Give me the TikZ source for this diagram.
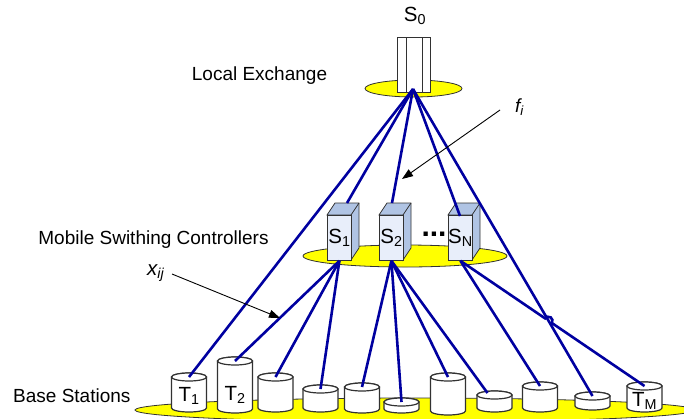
\documentclass[tikz,border=0pt]{standalone}
\usepackage{fontspec}
\setmainfont{Liberation Sans}
\usetikzlibrary{arrows.meta,calc,intersections}
\definecolor{linkblue}{RGB}{0,0,160}
\definecolor{yel}{RGB}{255,255,0}
\definecolor{boxfront}{RGB}{232,238,250}
\definecolor{boxshade}{RGB}{176,196,228}
\definecolor{edgegray}{RGB}{50,50,50}
\newcommand\mscbox[3]{%
  \filldraw[fill=boxshade, draw=edgegray, line width=0.8pt] (#2,215) -- (#2+8,203) -- (#2+32,203) -- (#2+32,248) -- (#2+24,260) -- (#2+24,215) -- cycle;
  \draw[edgegray, line width=0.8pt] (#2+24,215) -- (#2+32,203);
  \node[draw=edgegray, line width=0.8pt, fill=boxfront, minimum width=24pt, minimum height=45pt, inner sep=0pt, anchor=north west, lbl] (#1) at (#2,215) {\makebox[0pt]{#3}};
}
\newcommand\bscyl[6]{%
  \filldraw[cylline] (#2-17.5,#3+4) -- (#2-17.5,#4-4) arc[start angle=180, end angle=0, x radius=17.5, y radius=4] -- (#2+17.5,#3+4) arc[start angle=0, end angle=-180, x radius=17.5, y radius=4] -- cycle;
  \draw[cylline] (#2,#3+4) ellipse[x radius=17.5, y radius=4];
  \coordinate (#1) at (#2,#3+4);
  \node[lbl, anchor=base] (#1-label) at (#2,#6) {#5};
}
\begin{document}
\begin{tikzpicture}[x=1pt,y=-1pt,
  link/.style={draw=linkblue, line width=2.6pt},
  pointer/.style={draw=black, line width=0.9pt, -{Triangle[length=11pt,width=8pt]}},
  plate/.style={fill=yel, draw=edgegray, line width=0.8pt},
  cylline/.style={draw=edgegray, line width=1.2pt, fill=white},
  lbl/.style={font=\fontsize{20.5}{24}\selectfont, inner sep=0pt},
  txt/.style={font=\fontsize{19}{22}\selectfont, inner sep=0pt},
]
\useasboundingbox (0,0) rectangle (684,418);
\clip (0,0) rectangle (684,418);

% base stations plate and cylinders
\path[plate] (415,410) ellipse[x radius=280, y radius=12];
\bscyl{t1}{189}{373}{412}{T\textsubscript{1}}{401.5}
\bscyl{t2}{235}{357}{413}{T\textsubscript{2}}{400}
\bscyl{t3}{275.5}{373}{412}{}{400}
\bscyl{t4}{320.5}{385}{412}{}{400}
\bscyl{t5}{362}{383}{413}{}{400}
\bscyl{t6}{401.5}{398}{413}{}{400}
\bscyl{t7}{448}{373}{415}{}{400}
\bscyl{t8}{494.5}{391}{412}{}{400}
\bscyl{t9}{540}{382}{412}{}{400}
\bscyl{t10}{592.5}{392}{410}{}{400}
\bscyl{tm}{644.5}{382}{412}{T\textsubscript{M}}{406}

% mobile switching controllers
\path[plate] (405,256) ellipse[x radius=102, y radius=11];
\mscbox{s1}{327}{S\textsubscript{1}}
\mscbox{s2}{379}{S\textsubscript{2}}
\mscbox{sn}{448}{S\textsubscript{N}}
\node[font=\fontsize{30}{30}\selectfont\bfseries, inner sep=0pt] (dots) at (434,234.5) {...};
\coordinate (s1top) at (347,203);
\coordinate (s2top) at (392,203);
\coordinate (sntop) at (460,216);

% local exchange
\path[plate] (413.5,88.5) ellipse[x radius=48.5, y radius=8.5];
\node[draw=edgegray, fill=white, line width=0.8pt, minimum width=33pt, minimum height=55pt, inner sep=0pt] (s0) at (413.5,64.5) {};
\draw[edgegray, line width=0.8pt] (406,37) -- (406,92) (422,37) -- (422,92);
\coordinate (hub) at (413,89);

% links from the local exchange
\draw[link] (hub) -- (t1);
\draw[link] (hub) -- (s1top);
\draw[link] (hub) -- (s2top);
\draw[link] (hub) -- (sntop);
\draw[link, name path=hubt10] (hub) -- (t10);

% links from the controllers
\draw[link] (s1.south) -- (t2);
\draw[link] (s1.south) -- (t3);
\draw[link] (s1.south) -- (t4);
\draw[link] (s2.south) -- (t5);
\draw[link] (s2.south) -- (t6);
\draw[link] (s2.south) -- (t7);
\draw[link] (s2.south) -- ($(t8)+(-7,-2)$);
\draw[link] (sn.south) -- (t9);
\path[name path=sntm] (sn.south) -- (tm);
\path[name intersections={of=hubt10 and sntm, by=cross}];
\draw[link] (sn.south) -- ($(cross)!4pt!(sn.south)$) arc[start angle=214.3, end angle=394.3, radius=4] -- (tm);

% annotations
\coordinate (xijtail) at (172,274);
\coordinate (xijtip) at (280,318);
\draw[pointer] (xijtail) -- (xijtip);
\coordinate (fitail) at (500,110);
\coordinate (fitip) at (402,179);
\draw[pointer] (fitail) -- (fitip);

\node[txt, anchor=base] (lex) at (259.5,80) {Local Exchange};
\node[txt, anchor=base] (mscl) at (153.5,244) {Mobile Swithing Controllers};
\node[txt, anchor=base west] (bsl) at (13,402) {Base Stations};
\node[lbl, anchor=base] (s0l) at (415,21.5) {S\textsubscript{0}};
\node[lbl, anchor=base west] (xl) at (147,275) {\itshape x\textsubscript{ij}};
\node[txt, anchor=base west] (fl) at (515,112) {\itshape f\textsubscript{i}};
\end{tikzpicture}
\end{document}
